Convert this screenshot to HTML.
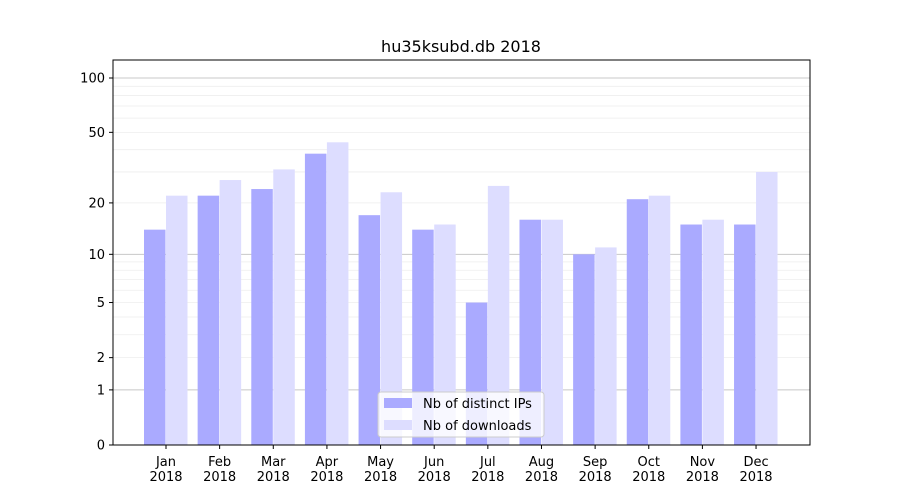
<!DOCTYPE html>
<html><head><meta charset="utf-8"><style>
body{margin:0;background:#fff;font-family:"DejaVu Sans","Liberation Sans",sans-serif;}
</style></head><body>
<svg id="chart" width="900" height="500" xmlns="http://www.w3.org/2000/svg" font-family="DejaVu Sans, Liberation Sans, sans-serif">
<rect width="900" height="500" fill="#fff"/>
<g id="grid"></g><g id="bars"></g><g id="axes"></g>
</svg>
<script>
const months=["Jan","Feb","Mar","Apr","May","Jun","Jul","Aug","Sep","Oct","Nov","Dec"];
const ips=[14,22,24,38,17,14,5,16,10,21,15,15];
const downloads=[22,27,31,44,23,15,25,16,11,22,16,30];
const yTicks=[0,1,2,5,10,20,50,100];
const majorGrid=[1,10,100];
const minorGrid=[2,3,4,5,6,7,8,9,20,30,40,50,60,70,80,90];
const NS="http://www.w3.org/2000/svg";
const L=113,R=810,T=60,B=445;
function y(v){return B-Math.log10(1+v)*183.1;}
function xc(i){return 166+i*53.64;}
function mk(tag,attrs,parent,text){const e=document.createElementNS(NS,tag);for(const k in attrs)e.setAttribute(k,attrs[k]);if(text!==undefined)e.textContent=text;document.getElementById(parent).appendChild(e);return e;}
minorGrid.forEach(v=>{const e=mk('line',{x1:L,x2:R,y1:y(v),y2:y(v),stroke:'#eeeeee','stroke-width':0.8},'grid');

});
majorGrid.forEach(v=>{const e=mk('line',{x1:L,x2:R,y1:y(v),y2:y(v),stroke:'#c8c8c8','stroke-width':1},'grid');

});
months.forEach((m,i)=>{
const a=mk('rect',{x:xc(i)-22,y:y(ips[i]),width:21.5,height:B-y(ips[i]),fill:'#aaaaff'},'bars');


const b=mk('rect',{x:xc(i),y:y(downloads[i]),width:21.5,height:B-y(downloads[i]),fill:'#ddddff'},'bars');


mk('line',{x1:xc(i),x2:xc(i),y1:B,y2:B+4,stroke:'#000'},'axes');
const t=mk('text',{x:xc(i),y:B+21,'text-anchor':'middle','font-size':13},'axes',m);


const t2=mk('text',{x:xc(i),y:B+36,'text-anchor':'middle','font-size':13},'axes','2018');


});
yTicks.forEach(v=>{mk('line',{x1:L-4,x2:L,y1:y(v),y2:y(v),stroke:'#000'},'axes');
const t=mk('text',{x:L-8,y:y(v)+4.5,'text-anchor':'end','font-size':13},'axes',String(v));

});
const f=mk('rect',{x:L,y:T,width:R-L,height:B-T,fill:'none',stroke:'#000','stroke-width':1},'axes');


const ti=mk('text',{x:461,y:52,'text-anchor':'middle','font-size':16},'axes','hu35ksubd.db 2018');


const lg=mk('rect',{x:378,y:392,width:166,height:45,rx:3,fill:'#fff','fill-opacity':0.8,stroke:'#ccc'},'axes');


mk('rect',{x:384,y:398,width:28,height:10,fill:'#aaaaff'},'axes');
mk('rect',{x:384,y:420,width:28,height:10,fill:'#ddddff'},'axes');
const l1=mk('text',{x:423,y:408,'font-size':13},'axes','Nb of distinct IPs');


const l2=mk('text',{x:423,y:430,'font-size':13},'axes','Nb of downloads');


</script>
</body></html>
